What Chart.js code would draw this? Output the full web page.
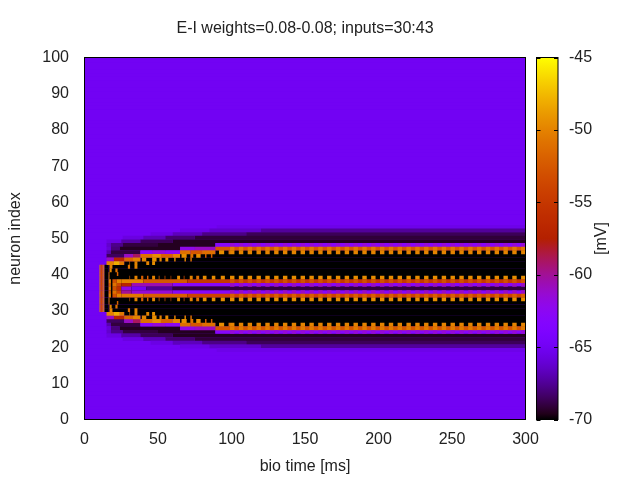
<!DOCTYPE html>
<html>
<head>
<meta charset="utf-8">
<style>
html, body { margin: 0; padding: 0; background: #fff; }
canvas { position: absolute; top: 0; }
</style>
<script src="https://cdn.jsdelivr.net/npm/chart.js@4/dist/chart.umd.js"></script>
</head>
<body>
<canvas id="heat" width="640" height="480" style="left:0"></canvas>
<canvas id="colorbar" width="110" height="480" style="left:530px"></canvas>
<script>
var xTicks = [0, 50, 100, 150, 200, 250, 300];
var yTicks = [0, 10, 20, 30, 40, 50, 60, 70, 80, 90, 100];
var cbTicks = [-70, -65, -60, -55, -50, -45];
var restMv = -65;
var blackMv = -70;
var neuronCount = 101;

// inputs=30:43, these neurons get the first volley
var inputRows = [30, 31, 32, 33, 34, 35, 36, 37, 38, 39, 40, 41, 42];
// [from ms, to ms, mV]
var onsetRuns = [[10.2, 10.9, -50], [10.9, 12.3, -54], [12.3, 13, -51], [13, 13.6, -49], [13.6, 16.4, -70]];

// [row, from ms, to ms, mV]
var haloRuns = [
    [53, 90, 300, -65.4],
    [52, 65, 85, -65.5], [52, 85, 120, -66.3], [52, 120, 300, -67.4],
    [51, 45, 60, -65.6], [51, 60, 80, -66.7], [51, 80, 110, -67.8], [51, 110, 300, -68.6],
    [50, 26, 40, -65.7], [50, 40, 55, -66.8], [50, 55, 75, -68.2], [50, 75, 300, -69.1],
    [49, 15, 25, -65.7], [49, 25, 38, -67.2], [49, 38, 60, -68.6], [49, 60, 300, -69.5],
    [48, 15, 18, -66.3], [48, 18, 26, -67.7], [48, 26, 50, -69], [48, 50, 89, -69.5],
    [47, 15, 18, -66], [47, 18, 24, -68], [47, 24, 65, -69.5],
    [46, 15, 18, -67], [46, 18, 38, -69],
    [45, 15, 27, -68.5],
    [27, 15, 27, -68.5],
    [26, 15, 18, -67], [26, 18, 38, -69],
    [25, 15, 18, -66], [25, 18, 24, -68], [25, 24, 65, -69.5],
    [24, 15, 18, -66.3], [24, 18, 26, -67.7], [24, 26, 50, -69], [24, 50, 89, -69.5],
    [23, 15, 25, -65.7], [23, 25, 38, -67.2], [23, 38, 60, -68.6], [23, 60, 300, -69.5],
    [22, 26, 40, -65.7], [22, 40, 55, -66.8], [22, 55, 75, -68.2], [22, 75, 300, -69.1],
    [21, 45, 60, -65.6], [21, 60, 80, -66.7], [21, 80, 110, -67.8], [21, 110, 300, -68.6],
    [20, 65, 85, -65.5], [20, 85, 120, -66.3], [20, 120, 300, -67.4],
    [19, 90, 300, -65.4]
];

// where the silent black band starts on each row
var blackRows = [46, 45, 44, 43, 29, 28, 27, 26];
var blackFrom = [89, 65, 38, 27, 27, 38, 65, 89];

// the moving front of the wave
var edgeRuns = [
    [44, 15, 20, -61], [44, 20, 27, -57],
    [43, 15, 20, -50], [43, 20, 24, -48], [43, 24, 27, -50.5],
    [45, 27, 33, -61], [45, 33, 38, -59],
    [44, 27, 33, -51.5], [44, 33, 38, -50],
    [46, 38, 46, -63], [46, 46, 55, -61.5], [46, 55, 65, -62.5],
    [45, 38, 46, -51], [45, 46, 52, -49.5], [45, 52, 60, -52], [45, 60, 65, -50],
    [47, 65, 75, -62], [47, 75, 89, -61],
    [46, 65, 72, -51], [46, 72, 80, -52.5], [46, 80, 89, -51],
    [48, 89, 300, -63],
    [47, 89, 300, -52.5],
    [28, 15, 20, -61], [28, 20, 27, -57],
    [29, 15, 20, -50], [29, 20, 24, -48], [29, 24, 27, -50.5],
    [27, 27, 33, -61], [27, 33, 38, -59],
    [28, 27, 33, -51.5], [28, 33, 38, -50],
    [26, 38, 46, -63], [26, 46, 55, -61.5], [26, 55, 65, -62.5],
    [27, 38, 46, -51], [27, 46, 52, -49.5], [27, 52, 60, -52], [27, 60, 65, -50],
    [25, 65, 75, -62], [25, 75, 89, -61],
    [26, 65, 72, -51], [26, 72, 80, -52.5], [26, 80, 89, -51],
    [24, 89, 300, -63],
    [25, 89, 300, -52.5]
];

// the two inner fronts and the quiet row between them
var centreRuns = [
    [38, 16.4, 18, -50], [38, 18, 19, -70], [38, 19, 22, -53], [38, 22, 25, -50],
    [37, 16.4, 18, -52], [37, 18, 19, -70], [37, 19, 22, -51], [37, 22, 25, -54],
    [36, 16.4, 18, -50], [36, 18, 19, -70], [36, 19, 22, -53], [36, 22, 25, -56],
    [35, 16.4, 18, -52], [35, 18, 19, -70], [35, 19, 22, -51], [35, 22, 25, -54],
    [34, 16.4, 18, -50], [34, 18, 19, -70], [34, 19, 22, -53], [34, 22, 25, -50],
    [38, 25, 40, -50], [38, 40, 70, -52.5], [38, 70, 300, -55],
    [37, 25, 32, -57], [37, 32, 60, -60.5], [37, 60, 300, -63],
    [36, 25, 32, -62], [36, 32, 42, -65], [36, 42, 60, -67.5], [36, 60, 300, -69],
    [35, 25, 32, -60], [35, 32, 60, -61.5], [35, 60, 300, -63],
    [34, 25, 40, -50.5], [34, 40, 70, -52], [34, 70, 300, -54]
];

// single spikes before the firing settles, [row, from ms, to ms, mV]
var earlyTeeth = [
    [42, 17, 19, -50], [42, 29.5, 31, -51], [42, 34, 36, -50],
    [41, 17, 18.5, -50], [41, 21, 22.5, -51],
    [40, 16.4, 17, -51], [40, 22, 23, -52],
    [39, 16.4, 17, -50], [39, 30.6, 31, -52], [39, 34, 36, -50], [39, 38.5, 40, -52], [39, 42.5, 43.5, -52],
    [39, 46, 48, -50], [39, 50.5, 51, -52], [39, 54.5, 55, -53], [39, 58.6, 59, -53], [39, 63, 65, -49.5],
    [39, 67.5, 68, -53], [39, 71.6, 73.6, -50], [39, 76, 78, -51], [39, 80.5, 83, -49.5], [39, 86.6, 89, -49.5], [39, 92.7, 95.5, -49.5],
    [43, 30.6, 31, -51], [43, 34, 36, -50], [43, 42, 44, -50], [43, 46, 48, -49.5],
    [44, 39, 42, -50], [44, 46, 49, -49.5], [44, 51, 52.5, -50], [44, 55, 57, -49.5], [44, 61, 62, -50], [44, 68, 69, -50], [44, 72, 73, -51],
    [45, 66, 69.5, -49.5], [45, 72, 74, -51], [45, 76, 79, -49.5], [45, 82, 83, -52], [45, 86, 87, -52],
    [46, 91.5, 95, -49.5], [46, 98, 99, -51],
    [30, 17, 19, -50], [30, 29.5, 31, -51], [30, 34, 36, -50],
    [31, 17, 18.5, -50], [31, 21, 22.5, -51],
    [32, 16.4, 17, -51], [32, 22, 23, -52],
    [33, 16.4, 17, -50], [33, 30.6, 31, -52], [33, 34, 36, -50], [33, 38.5, 40, -52], [33, 42.5, 43.5, -52],
    [33, 46, 48, -50], [33, 50.5, 51, -52], [33, 54.5, 55, -53], [33, 58.6, 59, -53], [33, 63, 65, -49.5],
    [33, 67.5, 68, -53], [33, 71.6, 73.6, -50], [33, 76, 78, -51], [33, 80.5, 83, -49.5], [33, 86.6, 89, -49.5], [33, 92.7, 95.5, -49.5],
    [29, 30.6, 31, -51], [29, 34, 36, -50], [29, 42, 44, -50], [29, 46, 48, -49.5],
    [28, 39, 42, -50], [28, 46, 49, -49.5], [28, 51, 52.5, -50], [28, 55, 57, -49.5], [28, 61, 62, -50], [28, 68, 69, -50], [28, 72, 73, -51],
    [27, 66, 69.5, -49.5], [27, 72, 74, -51], [27, 76, 79, -49.5], [27, 82, 83, -52], [27, 86, 87, -52],
    [26, 91.5, 95, -49.5], [26, 98, 99, -51]
];

// regular firing from about 100 ms on
var spikeTimes = [99, 105, 111, 117, 123, 129, 135, 141, 147, 153, 159, 165, 171, 177, 183, 189, 195, 201, 207, 213,
    219, 225, 231, 237, 243, 249, 255, 261, 267, 273, 279, 285, 291, 297];
var spikeRows = [48, 47, 46, 39, 38, 37, 35, 34, 33, 26, 25, 24];
var spikeMv = [-61.5, -50.5, -50, -49.5, -53, -61, -61, -52, -49.5, -50, -50.5, -61.5];

function palette(mv) {
    var g = Math.max(0, Math.min(1, (mv + 70) / 25));
    var r = Math.sqrt(g);
    var gr = g * g * g;
    var b = Math.max(0, Math.sin(2 * Math.PI * g));
    return "rgb(" + Math.round(r * 255) + "," + Math.round(gr * 255) + "," + Math.round(b * 255) + ")";
}

// a cell of row n covers n-0.3 .. n+0.7 in the plot
function cell(row, from, to, mv) {
    return {x: [from, to], y: row + 0.2, mv: mv};
}

var cells = [];
var i, j;
for (i = 0; i < neuronCount; i++) {
    cells.push(cell(i, 0, 300, restMv));
}
haloRuns.forEach(function (d) { cells.push(cell(d[0], d[1], d[2], d[3])); });
inputRows.forEach(function (row) {
    onsetRuns.forEach(function (d) { cells.push(cell(row, d[0], d[1], d[2])); });
    cells.push(cell(row, 16.4, 300, blackMv));
});
blackRows.forEach(function (row, k) { cells.push(cell(row, blackFrom[k], 300, blackMv)); });
edgeRuns.forEach(function (d) { cells.push(cell(d[0], d[1], d[2], d[3])); });
centreRuns.forEach(function (d) { cells.push(cell(d[0], d[1], d[2], d[3])); });
earlyTeeth.forEach(function (d) { cells.push(cell(d[0], d[1], d[2], d[3])); });
for (i = 0; i < spikeTimes.length; i++) {
    for (j = 0; j < spikeRows.length; j++) {
        cells.push(cell(spikeRows[j], spikeTimes[i], spikeTimes[i] + 3, spikeMv[j]));
    }
}

Chart.defaults.font.family = '"Liberation Sans", Arial, sans-serif';
Chart.defaults.font.size = 16;
Chart.defaults.color = "#222";
Chart.defaults.animation = false;

var framePlugin = {
    id: "frame",
    // resting colour behind the cells so row seams do not show white
    beforeDatasetsDraw: function (chart) {
        var a = chart.chartArea;
        chart.ctx.save();
        chart.ctx.fillStyle = palette(restMv);
        if (chart.canvas.id === "heat") {
            chart.ctx.fillRect(a.left, a.top, a.right - a.left, a.bottom - a.top);
        }
        chart.ctx.restore();
    },
    afterDraw: function (chart) {
        var a = chart.chartArea;
        var c = chart.ctx;
        c.save();
        c.strokeStyle = "#000";
        c.lineWidth = 1;
        c.strokeRect(a.left, a.top, a.right - a.left, a.bottom - a.top);
        c.restore();
    }
};

new Chart(document.getElementById("heat"), {
    type: "bar",
    data: {
        datasets: [{
            data: cells,
            backgroundColor: function (ctx) { return palette(ctx.raw.mv); },
            barPercentage: 1.06,
            categoryPercentage: 1,
            borderWidth: 0
        }]
    },
    options: {
        indexAxis: "y",
        responsive: false,
        devicePixelRatio: 1,
        layout: {padding: {right: 114.5}},
        plugins: {
            legend: {display: false},
            tooltip: {enabled: false},
            title: {
                display: true,
                text: "E-I weights=0.08-0.08; inputs=30:43",
                fullSize: false,
                font: {weight: "normal", size: 16},
                color: "#222",
                padding: {top: 19, bottom: 19.3}
            }
        },
        scales: {
            x: {
                type: "linear", min: 0, max: 300,
                afterBuildTicks: function (s) { s.ticks = xTicks.map(function (v) { return {value: v}; }); },
                grid: {display: false},
                border: {display: false},
                ticks: {padding: 2, maxRotation: 0, autoSkip: false},
                title: {display: true, text: "bio time [ms]", padding: {top: 4, bottom: 4}},
                afterFit: function (s) { s.height = 60.5; }
            },
            y: {
                type: "linear", min: 0, max: 100, offset: false,
                afterBuildTicks: function (s) { s.ticks = yTicks.map(function (v) { return {value: v}; }); },
                grid: {display: false},
                border: {display: false},
                ticks: {padding: 7.5, autoSkip: false},
                title: {display: true, text: "neuron index", padding: {top: 5.5, bottom: 0}},
                afterFit: function (s) { s.width = 84.5; }
            }
        }
    },
    plugins: [framePlugin]
});

// colour key, same scale logic on a second small chart
var cbPlugin = {
    id: "cbTicks",
    afterDraw: function (chart) {
        var a = chart.chartArea;
        var c = chart.ctx;
        var y = chart.scales.y;
        c.save();
        c.strokeStyle = "#000";
        c.lineWidth = 1;
        y.ticks.forEach(function (t, k) {
            var p = Math.round(y.getPixelForTick(k)) + 0.5;
            c.beginPath();
            c.moveTo(a.left, p); c.lineTo(a.left + 4, p);
            c.moveTo(a.right, p); c.lineTo(a.right - 4, p);
            c.stroke();
        });
        c.translate(72, (a.top + a.bottom) / 2);
        c.rotate(-Math.PI / 2);
        c.fillStyle = "#222";
        c.font = '16px "Liberation Sans", Arial, sans-serif';
        c.textAlign = "center";
        c.textBaseline = "middle";
        c.fillText("[mV]", 0, 0);
        c.restore();
    }
};

new Chart(document.getElementById("colorbar"), {
    type: "bar",
    data: {
        labels: ["mV"],
        datasets: [{
            data: [[-70, -45]],
            barPercentage: 1,
            categoryPercentage: 1,
            borderWidth: 0,
            backgroundColor: function (ctx) {
                var a = ctx.chart.chartArea;
                if (!a) { return "#000"; }
                var grad = ctx.chart.ctx.createLinearGradient(0, a.bottom, 0, a.top);
                for (var k = 0; k <= 64; k++) {
                    grad.addColorStop(k / 64, palette(-70 + 25 * k / 64));
                }
                return grad;
            }
        }]
    },
    options: {
        responsive: false,
        devicePixelRatio: 1,
        layout: {padding: {left: 6.5, top: 57.5, bottom: 60.5}},
        plugins: {legend: {display: false}, tooltip: {enabled: false}},
        scales: {
            x: {display: false},
            y: {
                position: "right",
                min: -70, max: -45,
                afterBuildTicks: function (s) { s.ticks = cbTicks.map(function (v) { return {value: v}; }); },
                grid: {display: false},
                border: {display: false},
                ticks: {padding: 3, autoSkip: false},
                afterFit: function (s) { s.width = 82; }
            }
        }
    },
    plugins: [framePlugin, cbPlugin]
});
</script>
</body>
</html>
